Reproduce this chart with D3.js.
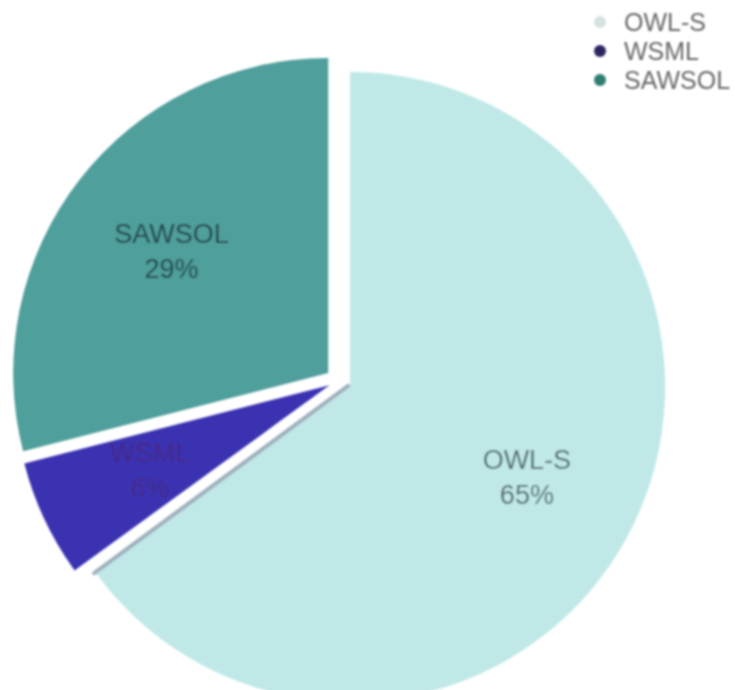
<!DOCTYPE html>
<html>
<head>
<meta charset="utf-8">
<script src="https://cdn.jsdelivr.net/npm/d3@7"></script>
<style>
  html, body { margin: 0; padding: 0; background: #ffffff; }
  svg { display: block; }
</style>
</head>
<body>
<script>
const categories = ["OWL-S", "WSML", "SAWSOL"];
const values = [65, 6, 29];
const percentLabels = ["65%", "6%", "29%"];
const sliceColors = ["#bfe8e7", "#3a33b2", "#4f9f9c"];
const legendColors = ["#d6e2e2", "#2a2860", "#2f7d72"];
const labelColors = ["#4f6968", "#46298a", "#22434a"];

const W = 735, H = 690;
const cx = 338.5, cy = 381, R = 315;
const explodeBySlice = [13, 10, 13];

const svg = d3.select("body").append("svg").attr("width", W).attr("height", H);
const defs = svg.append("defs");
defs.append("filter").attr("id", "soft")
  .attr("x", "-5%").attr("y", "-5%").attr("width", "110%").attr("height", "110%")
  .append("feGaussianBlur").attr("stdDeviation", 0.9);

const root = svg.append("g").attr("filter", "url(#soft)");

const pie = d3.pie().sort(null).value(d => d.v);
const data = categories.map((c, i) => ({ c, v: values[i], i }));
const arcs = pie(data);

const arc = d3.arc().innerRadius(0).outerRadius(R);
const labelArc = d3.arc().innerRadius(R * 0.63).outerRadius(R * 0.63);

function offset(d) {
  const a = (d.startAngle + d.endAngle) / 2;
  const e = explodeBySlice[d.data.i];
  return [Math.sin(a) * e, -Math.cos(a) * e];
}

const g = root.append("g").attr("transform", `translate(${cx},${cy})`);

const slices = g.selectAll("g.slice").data(arcs).join("g")
  .attr("class", "slice")
  .attr("transform", d => { const o = offset(d); return `translate(${o[0]},${o[1]})`; });

slices.append("path")
  .attr("d", arc)
  .attr("fill", d => sliceColors[d.data.i]);

// grey edge shading along OWL-S's trailing straight edge
const first = arcs[0];
const o0 = offset(first);
const ea = first.endAngle;
g.append("line")
  .attr("x1", o0[0] - 2).attr("y1", o0[1] - 1)
  .attr("x2", o0[0] + Math.sin(ea) * R - 1).attr("y2", o0[1] - Math.cos(ea) * R + 1)
  .attr("stroke", "#9fb0bd").attr("stroke-width", 4).attr("stroke-linecap", "round");

// labels
slices.each(function(d) {
  const c = labelArc.centroid(d);
  const t = d3.select(this).append("text")
    .attr("text-anchor", "middle")
    .attr("font-family", "'Liberation Sans', Arial, Helvetica, sans-serif")
    .attr("font-size", 27)
    .attr("fill", labelColors[d.data.i]);
  t.append("tspan").attr("x", c[0]).attr("y", c[1] - 8).text(d.data.c);
  t.append("tspan").attr("x", c[0]).attr("y", c[1] + 27).text(percentLabels[d.data.i]);
});

// legend
const legend = root.append("g").attr("transform", "translate(600,22)");
const items = legend.selectAll("g").data(categories).join("g")
  .attr("transform", (d, i) => `translate(0,${i * 29})`);
items.append("circle").attr("r", 6).attr("fill", (d, i) => legendColors[i]);
items.append("text")
  .attr("x", 24).attr("y", 9)
  .attr("font-family", "'Liberation Sans', Arial, Helvetica, sans-serif")
  .attr("font-size", 25)
  .attr("fill", "#686868")
  .text(d => d);
</script>
</body>
</html>
